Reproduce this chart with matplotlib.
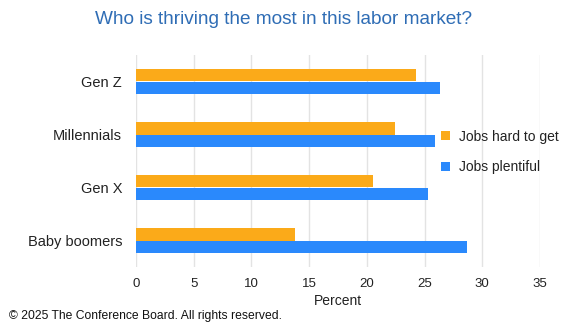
import matplotlib.pyplot as plt
import numpy as np

plt.rcParams['font.family'] = ['Liberation Sans', 'DejaVu Sans']

# Data
generations = ["Gen Z", "Millennials", "Gen X", "Baby boomers"]
jobs_hard_to_get = [24.3, 22.4, 20.5, 13.8]
jobs_plentiful = [26.3, 25.9, 25.3, 28.7]
x_ticks = [0, 5, 10, 15, 20, 25, 30, 35]

orange = "#FBAA19"
blue = "#2A89FC"

fig = plt.figure(figsize=(5.68, 3.35), dpi=100)
ax = fig.add_axes([136 / 568, 1 - 267 / 335, 404 / 568, 212 / 335])

y = np.arange(len(generations))
h = 0.24
ax.barh(y - h / 2, jobs_hard_to_get, height=h, color=orange, label="Jobs hard to get", zorder=3)
ax.barh(y + h / 2, jobs_plentiful, height=h, color=blue, label="Jobs plentiful", zorder=3)

ax.set_ylim(len(generations) - 0.5, -0.5)
ax.set_yticks(y)
ax.set_yticklabels(generations, fontsize=10.5, color="#222222")
ax.set_xlim(0, 35)
ax.set_xticks(x_ticks)
ax.set_xticklabels([str(t) for t in x_ticks], fontsize=9.5, color="#222222")
ax.tick_params(axis="both", length=0)
ax.tick_params(axis="x", pad=8)
ax.tick_params(axis="y", pad=10)
ax.grid(axis="x", color="#e3e3e3", linewidth=1, zorder=0)
for s in ax.spines.values():
    s.set_visible(False)
ax.set_xlabel("Percent", fontsize=10, color="#222222", labelpad=3)

ax.legend(loc="upper left", bbox_to_anchor=(0.725, 0.707), frameon=False,
          fontsize=10, handlelength=0.6, handleheight=0.6, handletextpad=0.7,
          labelspacing=1.2, labelcolor="#222222")

fig.text(0.5, 1 - 20 / 335, "Who is thriving the most in this labor market?",
         ha="center", va="center", fontsize=13.7, color="#2F6DB5")
fig.text(9 / 568, 1 - 316 / 335, "\u00a9 2025 The Conference Board. All rights reserved.",
         ha="left", va="center", fontsize=8.7, color="#111111")

fig.savefig("out.png", dpi=100)
